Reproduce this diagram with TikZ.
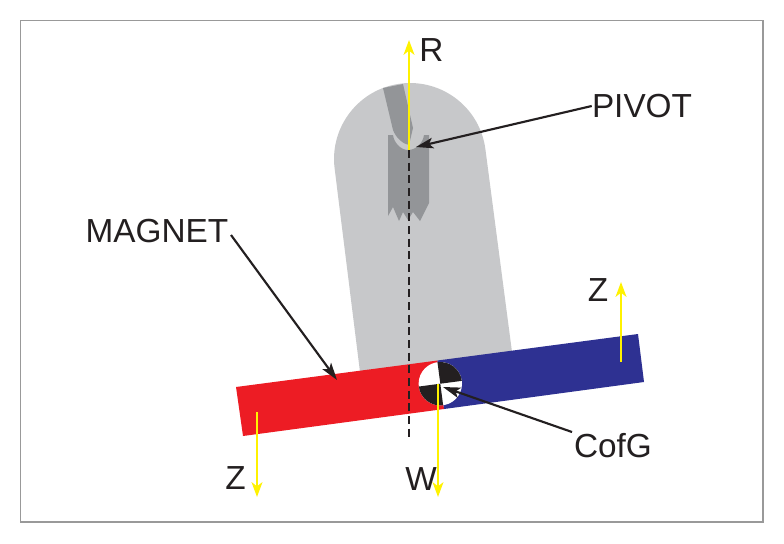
\documentclass[tikz,border=0pt]{standalone}
\usepackage{fontspec}
\setmainfont{Liberation Sans}
\usetikzlibrary{arrows.meta}
\definecolor{holder}{HTML}{C7C8CA}
\definecolor{blade}{HTML}{939598}
\definecolor{northred}{HTML}{ED1C24}
\definecolor{southblue}{HTML}{2E3192}
\definecolor{forceyellow}{HTML}{FFF200}
\definecolor{ink}{HTML}{231F20}
\tikzset{
  lbl/.style={inner sep=0pt, text=ink, font=\fontsize{25}{25}\selectfont, text height=17.9pt, text depth=0pt},
  force/.style={draw=forceyellow, line width=2.1pt, -{Stealth[length=11pt,width=8pt,inset=3pt]}},
  pointer/.style={draw=ink, line width=1.6pt, -{Stealth[length=13pt,width=8pt,inset=3pt]}}
}
\begin{document}
\begin{tikzpicture}[x=0.75pt, y=-0.75pt]
  \useasboundingbox (0,0) rectangle (784,543);
  \fill[white] (0,0) rectangle (784,543);
  \draw[draw=black!40, line width=1pt] (20.5,20.5) rectangle (763,522);

  \fill[holder] (360,372) -- (334.6,168.3) arc[start angle=-187, end angle=-7, radius=76] -- (512,352) -- cycle;

  \fill[blade] (388,135) -- (393,135) .. controls (394,143) and (401,150) .. (408,150) .. controls (416,150) and (423,143) .. (424,135) -- (429,135) -- (429,203) -- (420,221) -- (413,212) -- (408,220) -- (403,212) -- (399,221) -- (393,207) -- (388,216) -- cycle;
  \fill[blade] (383,88) -- (403,84) -- (413,128) -- (409,145) .. controls (403,144) and (396,138) .. (393,130) -- cycle;

  \fill[northred] (236,387) -- (437.5,360.5) -- (444,409) -- (243,436) -- cycle;
  \fill[southblue] (437.5,360.5) -- (638,334) -- (644,382) -- (444,409) -- cycle;

  \coordinate (cofg) at (440.3,383.7);
  \fill[white] (cofg) circle[radius=21.7];
  \fill[ink] (cofg) -- +(-7.5:21.7) arc[start angle=-7.5, end angle=-97.5, radius=21.7] -- cycle;
  \fill[ink] (cofg) -- +(172.5:21.7) arc[start angle=172.5, end angle=82.5, radius=21.7] -- cycle;

  \node[lbl] (rlabel) at (431.5,50) {R};
  \node[lbl] (pivotlabel) at (642,106) {PIVOT};
  \node[lbl] (magnetlabel) at (157,231) {MAGNET};
  \node[lbl] (cofglabel) at (613,446) {CofG};
  \node[lbl] (zright) at (598,290) {Z};
  \node[lbl] (zleft) at (235.5,478) {Z};
  \node[lbl] (wlabel) at (421,479) {W};

  \coordinate (pivot) at (409,150);
  \coordinate (rtip) at (409,40);
  \coordinate (plumb) at (409,438);
  \coordinate (pivotend) at (416,147);
  \coordinate (magnetend) at (337,380);
  \coordinate (cofgend) at (443,387);
  \coordinate (cofgstart) at (572,432);
  \coordinate (magnetstart) at (231,235);
  \coordinate (zrstart) at (621,362);
  \coordinate (zrtip) at (621,282);
  \coordinate (zlstart) at (257,412);
  \coordinate (zltip) at (257,497);
  \coordinate (wstart) at (438,384);
  \coordinate (wtip) at (438,497);

  \draw[ink, line width=1.5pt, dash pattern=on 6pt off 3.5pt] (pivot) -- (plumb);
  \draw[force] (pivot) -- (rtip);
  \draw[force] (zrstart) -- (zrtip);
  \draw[force] (zlstart) -- (zltip);
  \draw[force] (wstart) -- (wtip);
  \draw[pointer] (pivotlabel.west) -- (pivotend);
  \draw[pointer] (magnetstart) -- (magnetend);
  \draw[pointer] (cofgstart) -- (cofgend);
\end{tikzpicture}
\end{document}
